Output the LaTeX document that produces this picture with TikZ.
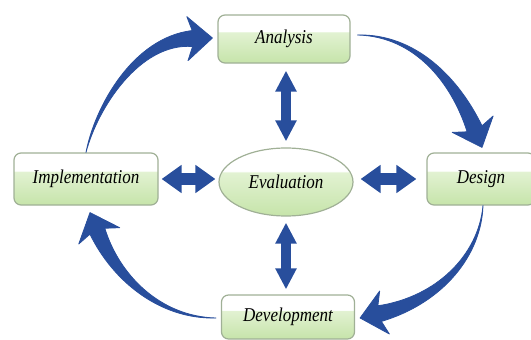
\documentclass[tikz,border=0pt]{standalone}
\usepackage{fontspec}
\setmainfont{Liberation Serif}
\usetikzlibrary{calc,arrows.meta,shapes.geometric}

\definecolor{arrowblue}{RGB}{40,78,156}
\definecolor{boxedge}{RGB}{160,176,150}
\definecolor{greenlight}{RGB}{226,242,210}
\definecolor{greendark}{RGB}{198,228,170}

\pgfdeclareverticalshading{stagefill}{100bp}{color(0bp)=(greendark); color(25bp)=(greendark);
  color(57bp)=(greenlight); color(58bp)=(white); color(100bp)=(white)}

\newcommand\stagetext[1]{\raisebox{-2pt}{\scalebox{1}[1.15]{#1}}}

\tikzset{
  stage/.style={draw=boxedge, line width=1.2pt, shade, shading=stagefill, inner sep=0pt,
    font=\fontsize{17}{20}\selectfont\itshape},
  hlink/.style={draw=arrowblue, line width=12pt,
    {Triangle[width=27pt,length=20pt]}-{Triangle[width=27pt,length=20pt]}},
  vlink/.style={draw=arrowblue, line width=10pt,
    {Triangle[width=20pt,length=21pt]}-{Triangle[width=20pt,length=21pt]}}
}

% tail, control, control, tip
\newcommand\bendarrow[4]{%
  \coordinate (ba0) at (#1);
  \coordinate (ba1) at (#2);
  \coordinate (ba2) at (#3);
  \coordinate (ba3) at (#4);
  \coordinate (bahb) at ($(ba3)!20pt!(ba2)$);
  \coordinate (babb) at ($(ba3)!25pt!(ba2)$);
  \fill[arrowblue, draw=arrowblue, line width=0.8pt, line join=round]
    (ba0) .. controls ($(ba1)!1.5pt!90:(ba0)$) and ($(ba2)!4.5pt!90:(ba1)$) .. ($(bahb)!8pt!90:(ba2)$)
    -- ($(babb)!22pt!90:(ba2)$) -- (ba3) -- ($(babb)!22pt!-90:(ba2)$)
    -- ($(bahb)!8pt!-90:(ba2)$) .. controls ($(ba2)!4.5pt!-90:(ba1)$) and ($(ba1)!1.5pt!-90:(ba0)$) .. (ba0) -- cycle;
}

\begin{document}
\begin{tikzpicture}[x=1pt, y=-1pt]
\useasboundingbox (0,0) rectangle (531,340);

\node[stage, rounded corners=7pt, minimum width=132pt, minimum height=48pt] (ana) at (284,39) {\stagetext{Analysis}};
\node[stage, rounded corners=7pt, minimum width=144pt, minimum height=52pt] (imp) at (86,179) {\stagetext{Implementation}};
\node[stage, rounded corners=7pt, minimum width=108pt, minimum height=52pt] (des) at (481,179) {\stagetext{Design}};
\node[stage, rounded corners=7pt, minimum width=133pt, minimum height=44pt] (dev) at (288,317) {\stagetext{Development}};
\node[stage, ellipse, minimum width=134pt, minimum height=68pt] (eva) at (286,182) {\stagetext{Evaluation}};

\draw[vlink, shorten <=7pt, shorten >=6pt] (eva.north |- ana.south) -- (eva.north);
\draw[vlink, shorten <=6pt, shorten >=5pt] (eva.south) -- (eva.south |- dev.north);
\draw[hlink, shorten <=3pt, shorten >=3pt] (imp.east) -- (imp.east -| eva.west);
\draw[hlink, shorten <=7pt, shorten >=10pt] (eva.east |- des.west) -- (des.west);

\bendarrow{imp.north}{96,108}{136,40}{$(ana.west)+(-5,-1)$}
\bendarrow{$(ana.east)+(7,-4)$}{415,35}{455,80}{$(des.north)+(1,-5)$}
\bendarrow{$(des.south)+(2,0)$}{480,255}{440,300}{$(dev.east)+(5,1)$}
\bendarrow{$(dev.west)+(-5,1)$}{160,318}{116,278}{$(imp.south)+(4,7)$}
\end{tikzpicture}
\end{document}
